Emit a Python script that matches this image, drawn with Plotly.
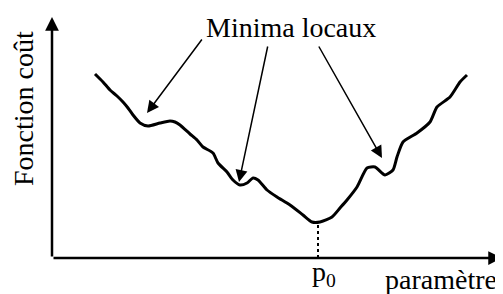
import plotly.graph_objects as go

# Cost curve (parameter, cost) in arbitrary units
param = [43, 51, 58, 65, 71, 76, 81, 88, 96, 108, 118, 123, 128, 138, 145, 151, 161, 166, 175, 181,
         188, 195, 201, 206, 215, 225, 238, 251, 260, 268, 280, 288, 295, 305, 315, 323, 333, 341,
         345, 351, 365, 378, 385, 398, 408, 415]
cost = [184, 176, 168, 162, 156, 150, 143, 135, 132, 135, 137, 136, 133, 124, 118, 111, 105, 95, 86, 78,
        73, 75, 80, 78, 68, 61, 53, 43, 36, 36, 41, 50, 58, 71, 90, 91, 83, 88,
        101, 116, 125, 136, 151, 161, 176, 183]

# Local minima pointed at (tip) and arrow tails near the label
minima_x = [95, 187, 330]
minima_y = [145, 76, 100]
tail_x = [151, 216, 266]
tail_y = [220, 213, 213]

p0 = 266
p0_cost = 36

FONT = "Liberation Serif"

fig = go.Figure()
fig.add_trace(go.Scatter(x=param, y=cost, mode="lines",
                         line=dict(color="black", width=3, shape="spline", smoothing=0.6),
                         hoverinfo="skip"))

annotations = []
# axes with arrows
annotations.append(dict(x=0, y=241, ax=0, ay=0, xref="x", yref="y", axref="x", ayref="y",
                        showarrow=True, arrowhead=2, arrowsize=1.1, arrowwidth=2.5,
                        arrowcolor="black", text=""))
annotations.append(dict(x=450, y=0, ax=0, ay=0, xref="x", yref="y", axref="x", ayref="y",
                        showarrow=True, arrowhead=2, arrowsize=1.1, arrowwidth=2.5,
                        arrowcolor="black", text=""))
# arrows to minima
for mx, my, tx, ty in zip(minima_x, minima_y, tail_x, tail_y):
    annotations.append(dict(x=mx, y=my, ax=tx, ay=ty, xref="x", yref="y", axref="x", ayref="y",
                            showarrow=True, arrowhead=2, arrowsize=1.6, arrowwidth=1.5,
                            arrowcolor="black", text=""))
# texts
annotations.append(dict(x=239, y=231, xref="x", yref="y", text="Minima locaux", showarrow=False,
                        font=dict(family=FONT, size=28, color="black")))
annotations.append(dict(x=-29, y=149, xref="x", yref="y", text="Fonction coût", showarrow=False,
                        textangle=-90, font=dict(family=FONT, size=28, color="black")))
annotations.append(dict(x=272, y=-15, xref="x", yref="y", text="p<sub>0</sub>", showarrow=False,
                        font=dict(family=FONT, size=28, color="black")))
annotations.append(dict(x=447, y=-21, xref="x", yref="y", text="paramètre", showarrow=False,
                        xanchor="right", font=dict(family=FONT, size=28, color="black")))

# The page body has an 8px default margin, so the figure is 8px smaller and the
# ranges are trimmed accordingly (1 data unit = 1 pixel).
fig.update_layout(
    width=495, height=286,
    margin=dict(l=0, r=0, t=0, b=0),
    paper_bgcolor="white", plot_bgcolor="white",
    showlegend=False,
    xaxis=dict(range=[-44, 451], visible=False, fixedrange=True),
    yaxis=dict(range=[-36, 250], visible=False, fixedrange=True),
    annotations=annotations,
    shapes=[dict(type="line", x0=p0, x1=p0, y0=0, y1=p0_cost, xref="x", yref="y",
                 line=dict(color="black", width=2, dash="dot"))],
)

fig.write_html("out.html")
